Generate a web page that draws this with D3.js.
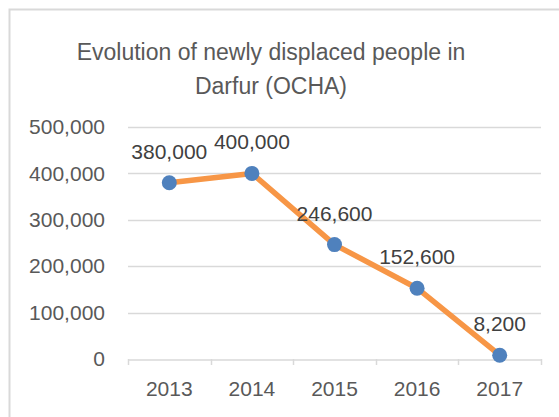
<!DOCTYPE html>
<html>
<head>
<meta charset="utf-8">
<script src="https://cdn.jsdelivr.net/npm/d3@7"></script>
<style>
  body { margin: 0; background: #fff; }
  svg { display: block; font-family: "Liberation Sans", Arial, sans-serif; }
</style>
</head>
<body>
<div id="chart"></div>
<script>
// dados
const years = ["2013", "2014", "2015", "2016", "2017"];
const displaced = [380000, 400000, 246600, 152600, 8200];
const yTicks = [0, 100000, 200000, 300000, 400000, 500000];
const titleLines = ["Evolution of newly displaced people in", "Darfur (OCHA)"];

const width = 559, height = 417;
const textColor = "#595959";
const gridColor = "#D9D9D9";

const svg = d3.select("#chart").append("svg")
  .attr("width", width)
  .attr("height", height);

// moldura do gráfico (sai pela direita e por baixo)
svg.append("rect")
  .attr("x", 9.5).attr("y", 9.5)
  .attr("width", width).attr("height", height)
  .attr("fill", "#fff")
  .attr("stroke", gridColor)
  .attr("stroke-width", 2);

// título
svg.append("text")
  .attr("text-anchor", "middle")
  .attr("fill", textColor)
  .attr("font-size", 23)
  .selectAll("tspan")
  .data(titleLines)
  .join("tspan")
  .attr("x", 271)
  .attr("y", (d, i) => 60 + i * 34)
  .text(d => d);

// escalas
const x = d3.scaleBand().domain(years).range([128, 541]);
const y = d3.scaleLinear().domain([0, 500000]).range([359, 127]);

// linhas de grade
svg.append("g")
  .selectAll("line")
  .data(yTicks.filter(d => d > 0))
  .join("line")
  .attr("x1", 128).attr("x2", 541)
  .attr("y1", d => Math.round(y(d)) + 0.5)
  .attr("y2", d => Math.round(y(d)) + 0.5)
  .attr("stroke", gridColor)
  .attr("stroke-width", 1.5);

// eixo y (só rótulos)
const yAxis = svg.append("g")
  .attr("transform", "translate(105,0)")
  .call(d3.axisLeft(y).tickValues(yTicks).tickSize(0).tickPadding(0).tickFormat(d3.format(",")));
yAxis.select(".domain").remove();
yAxis.selectAll("text")
  .attr("fill", textColor)
  .attr("font-size", 21)
  .attr("font-family", null);

// eixo x
const xAxis = svg.append("g")
  .attr("transform", `translate(0,${Math.round(y(0)) + 0.5})`)
  .call(d3.axisBottom(x).tickSize(0).tickPadding(22));
xAxis.select(".domain")
  .attr("stroke", gridColor)
  .attr("stroke-width", 1.5);
xAxis.selectAll("text")
  .attr("fill", textColor)
  .attr("font-size", 21)
  .attr("font-family", null);

// marcas de divisão entre categorias
svg.append("g")
  .selectAll("line")
  .data(years.map(d => x(d)).concat([x.range()[1]]))
  .join("line")
  .attr("x1", d => Math.round(d) + 0.5).attr("x2", d => Math.round(d) + 0.5)
  .attr("y1", Math.round(y(0))).attr("y2", Math.round(y(0)) + 6)
  .attr("stroke", gridColor)
  .attr("stroke-width", 1.5);

const cx = d => x(d) + x.bandwidth() / 2;

// linha da série
const line = d3.line()
  .x((d, i) => cx(years[i]))
  .y(d => y(d));

svg.append("path")
  .datum(displaced)
  .attr("d", line)
  .attr("fill", "none")
  .attr("stroke", "#F79646")
  .attr("stroke-width", 5.5)
  .attr("stroke-linejoin", "round");

// marcadores
svg.append("g")
  .selectAll("circle")
  .data(displaced)
  .join("circle")
  .attr("cx", (d, i) => cx(years[i]))
  .attr("cy", d => y(d))
  .attr("r", 7.5)
  .attr("fill", "#4F81BD");

// rótulos de dados
svg.append("g")
  .selectAll("text")
  .data(displaced)
  .join("text")
  .attr("x", (d, i) => cx(years[i]))
  .attr("y", d => y(d) - 24)
  .attr("text-anchor", "middle")
  .attr("fill", "#404040")
  .attr("font-size", 21)
  .text(d => d3.format(",")(d));
</script>
</body>
</html>
